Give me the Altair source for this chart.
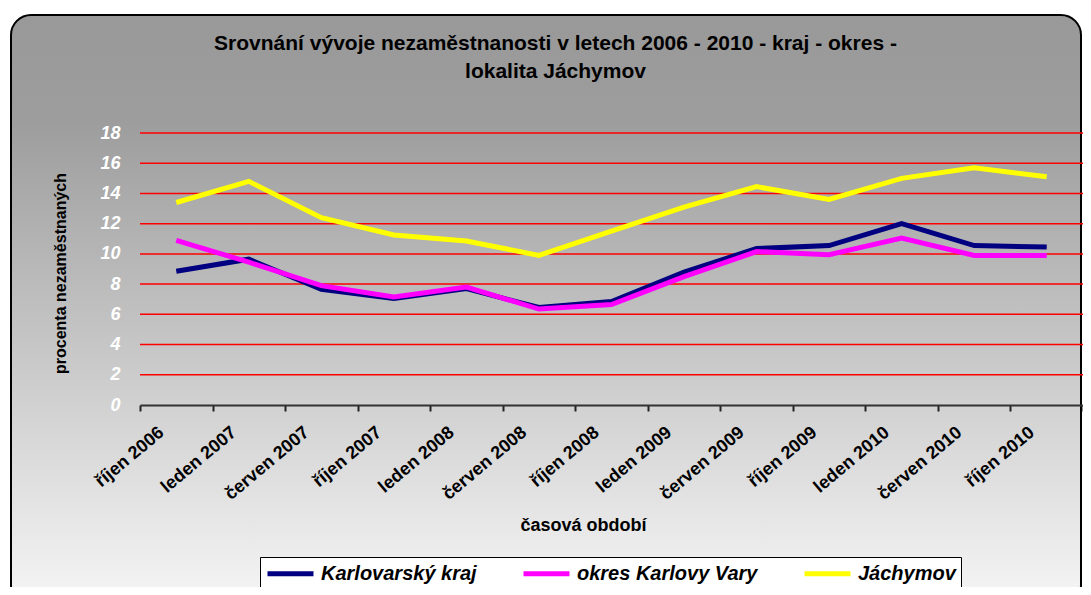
import altair as alt
import pandas as pd

periods = ["říjen 2006", "leden 2007", "červen 2007", "říjen 2007", "leden 2008",
           "červen 2008", "říjen 2008", "leden 2009", "červen 2009", "říjen 2009",
           "leden 2010", "červen 2010", "říjen 2010"]
series_names = ["Karlovarský kraj", "okres Karlovy Vary", "Jáchymov"]
kraj = [8.85, 9.65, 7.65, 7.05, 7.7, 6.45, 6.85, 8.8, 10.35, 10.55, 12.0, 10.55, 10.45]
okres = [10.9, 9.45, 7.9, 7.15, 7.8, 6.35, 6.65, 8.5, 10.15, 9.95, 11.05, 9.9, 9.9]
jachymov = [13.4, 14.8, 12.4, 11.25, 10.85, 9.9, 11.5, 13.1, 14.45, 13.6, 15.0, 15.7, 15.1]
y_ticks = [0, 2, 4, 6, 8, 10, 12, 14, 16, 18]
colors = ["#000080", "#ff00ff", "#ffff00"]

rows = []
for name, vals in zip(series_names, [kraj, okres, jachymov]):
    for p, v in zip(periods, vals):
        rows.append({"obdobi": p, "hodnota": v, "rada": name})
df = pd.DataFrame(rows)
grid_df = pd.DataFrame({"hodnota": y_ticks[1:]})

W, H = 943, 272

y_axis = alt.Axis(title="procenta nezaměstnaných", values=y_ticks,
                  labelFont="Liberation Sans", labelFontWeight="bold",
                  labelFontStyle="italic", labelFontSize=18, labelColor="white",
                  labelPadding=20, ticks=False, domain=False, grid=False, zindex=2,
                  titleFont="Liberation Sans", titleFontWeight="bold",
                  titleFontSize=16, titleColor="black",
                  titleX=-80, titleY=140, titleAngle=-90,
                  titleBaseline="middle", titleAlign="center")
y_scale = alt.Scale(domain=[0, 18], nice=False)

bg = alt.Chart(pd.DataFrame({"a": [0]})).mark_rect(
    cornerRadius=20,
    stroke="black",
    strokeWidth=2,
    color=alt.LinearGradient(
        gradient="linear", x1=0, y1=0, x2=0, y2=1,
        stops=[alt.GradientStop(color="#999999", offset=0),
               alt.GradientStop(color="#9d9d9d", offset=0.18),
               alt.GradientStop(color="#f6f6f6", offset=1)]),
).encode(
    x=alt.value(-129), x2=alt.value(941),
    y=alt.value(-118), y2=alt.value(H + 200),
)

grid = alt.Chart(grid_df).mark_rule(color="#ff0000", strokeWidth=1.5).encode(
    y=alt.Y("hodnota:Q", scale=y_scale, axis=y_axis),
    x=alt.value(0), x2=alt.value(W),
)

lines = alt.Chart(df).mark_line(strokeWidth=5, strokeCap="butt", strokeJoin="miter").encode(
    x=alt.X("obdobi:N", sort=periods,
            scale=alt.Scale(paddingInner=0, paddingOuter=0),
            axis=alt.Axis(title="časová období", labelAngle=-40, labelAlign="right",
                          labelBaseline="middle", labelOffset=-15, labelPadding=19,
                          labelFont="Liberation Sans", labelFontWeight="bold",
                          labelFontSize=18, labelColor="black",
                          tickBand="extent", tickSize=6, tickColor="#222222", tickWidth=2,
                          domainColor="#333333", domainWidth=2, zindex=2,
                          titleFont="Liberation Sans", titleFontWeight="bold",
                          titleFontSize=18, titleColor="black",
                          titleX=443, titleY=120, titleBaseline="middle", titleAlign="center")),
    y=alt.Y("hodnota:Q", scale=y_scale, axis=y_axis),
    color=alt.Color("rada:N", sort=series_names,
                    scale=alt.Scale(domain=series_names, range=colors),
                    legend=alt.Legend(title=None, orient="none", legendX=120, legendY=424,
                                      direction="horizontal", columns=3,
                                      symbolType="M-1,0H4.11", symbolStrokeWidth=5,
                                      symbolSize=324, labelOffset=33,
                                      labelFont="Liberation Sans", labelFontWeight="bold",
                                      labelFontStyle="italic", labelFontSize=20,
                                      labelColor="black", labelLimit=400,
                                      columnPadding=36, padding=5, zindex=2,
                                      fillColor="white", strokeColor="black")),
    detail="rada:N",
)

chart = alt.layer(bg, grid, lines).properties(
    width=W, height=H,
    padding={"left": 132, "top": 125, "right": 0, "bottom": 182},
    autosize=alt.AutoSizeParams(type="none"),
    title=alt.Title(["Srovnání vývoje nezaměstnanosti v letech 2006 - 2010 - kraj - okres -",
                     "lokalita Jáchymov"],
                    font="Liberation Sans", fontWeight="bold", fontSize=21,
                    color="black", anchor="middle", dx=-56, offset=-68, lineHeight=28,
                    zindex=2),
).configure_view(stroke=None).configure_title(zindex=2).configure(background="white")

chart.save("out.html", embed_options={"renderer": "svg", "actions": False})
